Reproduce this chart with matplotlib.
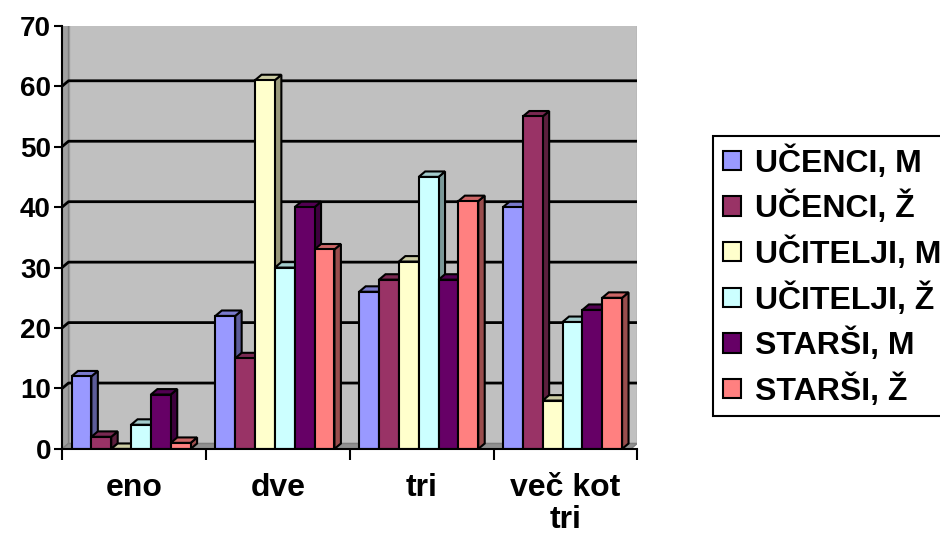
import numpy as np
import matplotlib
matplotlib.use("Agg")
from matplotlib import pyplot as plt
from matplotlib.patches import Rectangle, Polygon
from matplotlib.colors import to_rgb

plt.rcParams['font.family'] = ['Liberation Sans', 'DejaVu Sans']
plt.rcParams['font.weight'] = 'bold'

categories = ["eno", "dve", "tri", "več kot\ntri"]
series = ["UČENCI, M", "UČENCI, Ž", "UČITELJI, M", "UČITELJI, Ž", "STARŠI, M", "STARŠI, Ž"]
ucenci_m = [12, 22, 26, 40]
ucenci_z = [2, 15, 28, 55]
ucitelji_m = [0, 61, 31, 8]
ucitelji_z = [4, 30, 45, 21]
starsi_m = [9, 40, 28, 23]
starsi_z = [1, 33, 41, 25]
values = [ucenci_m, ucenci_z, ucitelji_m, ucitelji_z, starsi_m, starsi_z]
colors = ["#9999FF", "#993366", "#FFFFCC", "#CCFFFF", "#660066", "#FF8080"]

def shade(c, f):
    r, g, b = to_rgb(c)
    return (r * f, g * f, b * f)

fig = plt.figure(figsize=(9.4, 5.37), dpi=100)
ax = fig.add_axes([0.066, 0.164, 0.612, 0.788])
ax.set_xlim(0, 4)
ax.set_ylim(0, 70)

dx, dy = 0.045, 0.9  # depth of 3d effect

# walls
ax.add_patch(Polygon([(dx, dy), (4, dy), (4, 70 + dy * 0.5), (dx, 70 + dy * 0.5)],
                     closed=True, facecolor="#C0C0C0", edgecolor="#A0A0A0", lw=1, zorder=0))
ax.add_patch(Polygon([(0, 0), (dx, dy), (dx, 70 + dy * 0.5), (0, 70)],
                     closed=True, facecolor="#A0A0A0", edgecolor="#808080", lw=1, zorder=0))
ax.add_patch(Polygon([(0, 0), (4 - dx, 0), (4, dy), (dx, dy)],
                     closed=True, facecolor="#909090", edgecolor="#808080", lw=1, zorder=0))
for v in range(10, 70, 10):
    ax.plot([0, dx, 4], [v, v + dy, v + dy], color="black", lw=2, zorder=1)

bw = 0.138
n = len(series)
for ci in range(len(categories)):
    x0 = ci + 0.5 - n * bw / 2 - 0.02
    for si in range(n):
        h = values[si][ci]
        x = x0 + si * bw
        c = colors[si]
        ax.add_patch(Polygon([(x + bw, 0), (x + bw + dx, dy), (x + bw + dx, h + dy), (x + bw, h)],
                             closed=True, facecolor=shade(c, 0.6), edgecolor="black", lw=1.5, zorder=2))
        ax.add_patch(Polygon([(x, h), (x + dx, h + dy), (x + bw + dx, h + dy), (x + bw, h)],
                             closed=True, facecolor=shade(c, 0.8), edgecolor="black", lw=1.5, zorder=2))
        ax.add_patch(Rectangle((x, 0), bw, h, facecolor=c, edgecolor="black", lw=1.5, zorder=2))

for s in ["top", "right"]:
    ax.spines[s].set_visible(False)
for s in ["left", "bottom"]:
    ax.spines[s].set_linewidth(1.5)
    ax.spines[s].set_zorder(3)

ax.set_yticks(range(0, 71, 10))
ax.tick_params(axis="y", labelsize=20, length=6, width=1.5, pad=2)
ax.set_xticks(range(0, 5))
ax.set_xticklabels([])
ax.tick_params(axis="x", which="major", length=8, width=1.5)
ax.set_xticks([i + 0.5 for i in range(4)], minor=True)
ax.set_xticklabels(categories, minor=True, fontsize=23, linespacing=1.12)
ax.tick_params(axis="x", which="minor", length=0, pad=17)
for t in ax.get_xticklabels(minor=True):
    t.set_verticalalignment("top")

handles = [Rectangle((0, 0), 1, 1, facecolor=c, edgecolor="black", lw=1.5) for c in colors]
leg = fig.legend(handles, series, loc="center left", bbox_to_anchor=(0.759, 0.486),
                 fontsize=23, handlelength=0.55, handleheight=0.55, handletextpad=0.45,
                 labelspacing=0.38, fancybox=False, framealpha=1, borderpad=0.3,
                 borderaxespad=0)
leg.get_frame().set_edgecolor("black")
leg.get_frame().set_linewidth(1.5)

fig.savefig("out.png", dpi=100, facecolor="white")
